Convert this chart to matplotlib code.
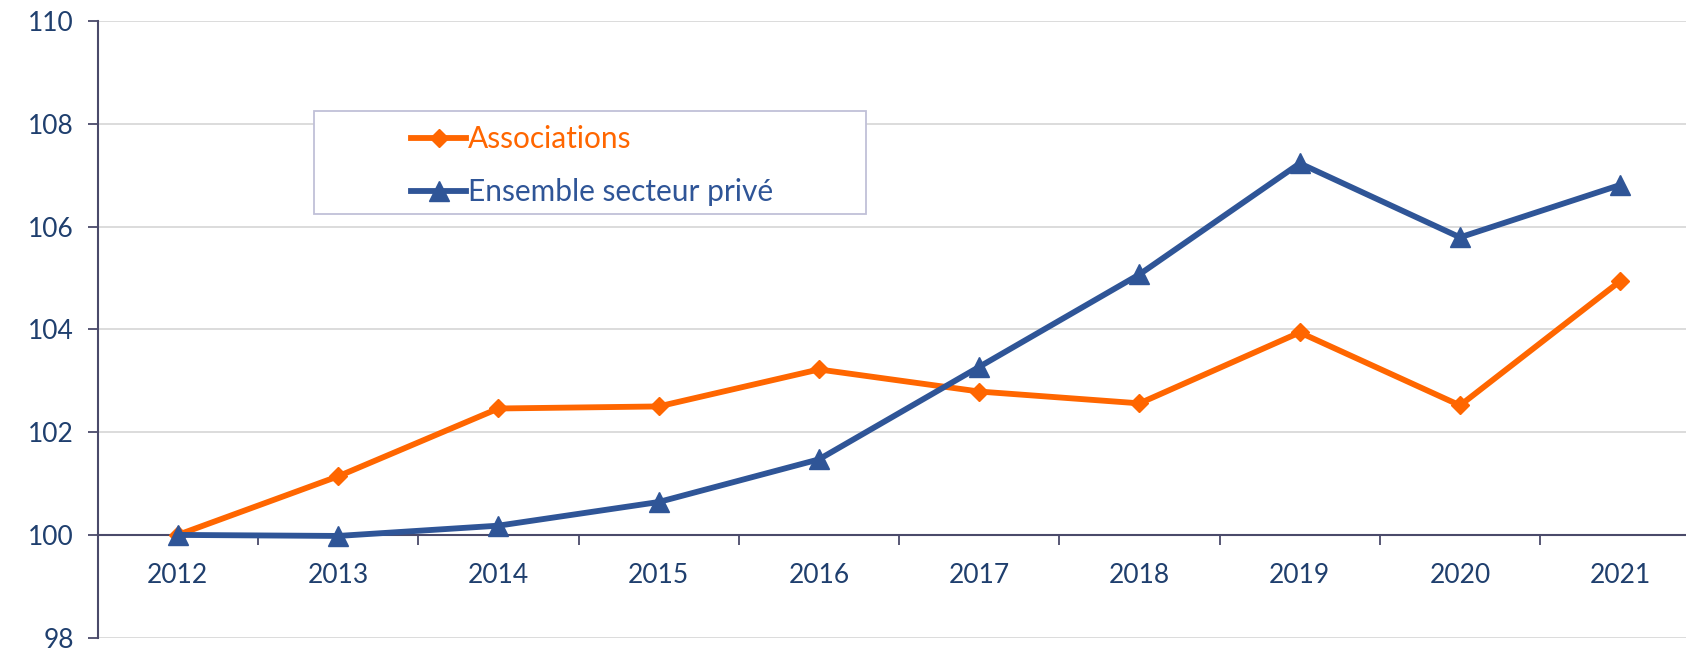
import matplotlib.pyplot as plt
from matplotlib.patches import Rectangle

years = ["2012", "2013", "2014", "2015", "2016", "2017", "2018", "2019", "2020", "2021"]
associations = [100.0, 101.14, 102.46, 102.50, 103.22, 102.79, 102.56, 103.94, 102.52, 104.94]
ensemble_prive = [100.0, 99.98, 100.18, 100.64, 101.47, 103.27, 105.07, 107.23, 105.79, 106.81]
yticks = [98, 100, 102, 104, 106, 108, 110]

orange = "#FF6600"
blue = "#2F5597"
navy_text = "#1F3F6E"
axis_col = "#4A4A6A"

plt.rcParams['font.family'] = ['Lato', 'DejaVu Sans']

W, H = 1686, 649
fig = plt.figure(figsize=(W / 100, H / 100), dpi=100)
ax = fig.add_axes([97.7 / W, (H - 637.7) / H, 1 - 97.7 / W, (637.7 - 21) / H])

x = list(range(len(years)))
ax.plot(x, associations, color=orange, lw=4.2, marker="D", markersize=9.5,
        label="Associations", zorder=4, clip_on=False)
ax.plot(x, ensemble_prive, color=blue, lw=4.2, marker="^", markersize=14,
        label="Ensemble secteur privé", zorder=5, clip_on=False)

ax.set_xlim(-0.5, 9.41)
ax.set_ylim(98, 110)

# y axis
ax.set_yticks(yticks)
ax.yaxis.grid(True, color="#D9D9D9", lw=1.3)
ax.set_axisbelow(True)
ax.tick_params(axis="y", direction="out", length=7, width=1.3, color=axis_col,
               labelsize=19, labelcolor=navy_text, pad=10)

# category axis crossing at 100
ax.spines["bottom"].set_position(("data", 100))
ax.spines["bottom"].set_color(axis_col)
ax.spines["bottom"].set_linewidth(1.5)
ax.spines["left"].set_color(axis_col)
ax.spines["left"].set_linewidth(1.5)
ax.spines["top"].set_visible(False)
ax.spines["right"].set_visible(False)

ax.set_xticks([i - 0.5 for i in range(1, len(years))])
ax.set_xticklabels([])
ax.tick_params(axis="x", which="major", direction="out", length=7, width=1.3, color=axis_col)
ax.set_xticks(x, minor=True)
ax.set_xticklabels(years, minor=True)
ax.tick_params(axis="x", which="minor", length=0, labelsize=19, labelcolor=navy_text, pad=20)

# legend box
fig.patches.append(Rectangle((314 / W, (H - 214) / H), (865.6 - 314) / W, (214 - 110.8) / H,
                             transform=fig.transFigure, facecolor="white",
                             edgecolor="#C0C0D8", lw=1.3, zorder=6))
leg = fig.legend(loc="upper left", bbox_to_anchor=(411 / W, (H - 125) / H), frameon=False,
                 fontsize=21.5, handlelength=1.85, handletextpad=0.05, labelspacing=0.84,
                 borderpad=0, borderaxespad=0)
leg.set_zorder(7)
for txt, c in zip(leg.get_texts(), [orange, blue]):
    txt.set_color(c)

fig.savefig("out.png", dpi=100, facecolor="white")
